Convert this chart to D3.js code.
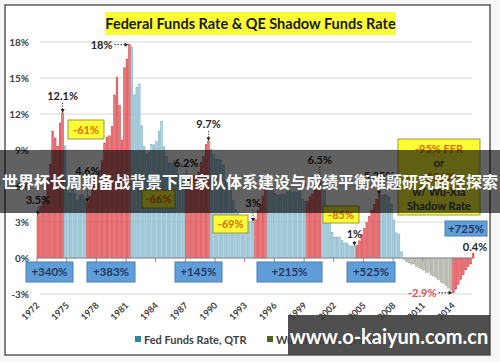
<!DOCTYPE html>
<html>
<head>
<meta charset="utf-8">
<script src="https://cdn.jsdelivr.net/npm/d3@7"></script>
<style>
  body { margin: 0; background: #fff; }
  svg { display: block; }
  text { font-family: Lato, "Open Sans", sans-serif; }
</style>
</head>
<body>
<script>
// effective fed funds rate, quarterly averages, one row per year 1972 - 2008
var fedFunds = [
  [3.55, 4.30, 4.74, 5.14],   // 1972
  [6.54, 7.82, 10.56, 10.00], // 1973
  [9.32, 11.25, 12.09, 9.35], // 1974
  [6.30, 5.42, 6.16, 5.41],   // 1975
  [4.83, 5.20, 5.28, 4.87],   // 1976
  [4.66, 5.16, 5.82, 6.51],   // 1977
  [6.76, 7.28, 8.10, 9.58],   // 1978
  [10.07, 10.18, 10.95, 13.58], // 1979
  [15.05, 12.69, 9.84, 15.85],  // 1980
  [16.57, 17.78, 17.58, 13.59], // 1981
  [14.23, 14.51, 11.01, 9.29],  // 1982
  [8.65, 8.80, 9.46, 9.43],   // 1983
  [9.69, 10.56, 11.39, 9.27], // 1984
  [8.48, 7.92, 7.90, 8.10],   // 1985
  [7.83, 6.92, 6.21, 6.27],   // 1986
  [6.22, 6.65, 6.84, 6.92],   // 1987
  [6.66, 7.16, 7.98, 8.47],   // 1988
  [9.44, 9.73, 9.08, 8.61],   // 1989
  [8.25, 8.24, 8.16, 7.74],   // 1990
  [6.43, 5.86, 5.64, 4.82],   // 1991
  [4.02, 3.77, 3.26, 3.04],   // 1992
  [3.04, 3.00, 3.06, 2.99],   // 1993
  [3.21, 3.94, 4.49, 5.17],   // 1994
  [5.81, 6.02, 5.80, 5.72],   // 1995
  [5.36, 5.24, 5.31, 5.28],   // 1996
  [5.28, 5.52, 5.53, 5.51],   // 1997
  [5.52, 5.50, 5.53, 4.86],   // 1998
  [4.73, 4.75, 5.09, 5.31],   // 1999
  [5.68, 6.27, 6.52, 6.47],   // 2000
  [5.59, 4.33, 3.50, 2.13],   // 2001
  [1.73, 1.75, 1.74, 1.44],   // 2002
  [1.25, 1.25, 1.02, 1.00],   // 2003
  [1.00, 1.03, 1.43, 1.95],   // 2004
  [2.47, 2.94, 3.46, 3.98],   // 2005
  [4.46, 4.91, 5.25, 5.25],   // 2006
  [5.26, 5.25, 5.07, 4.50],   // 2007
  [3.18, 2.09, 1.94, 0.51]    // 2008
]

// Wu-Xia shadow rate, quarterly, 2009Q1 - 2016Q1
var wuXia = [
  -0.1, -0.3, -0.4, -0.5,
  -0.5, -0.7, -0.8, -0.9,
  -1.0, -1.2, -1.2, -1.4,
  -1.5, -1.6, -1.8, -2.0,
  -2.1, -2.3, -2.5, -2.7,
  -2.9, -2.6, -2.2, -1.8,
  -1.4, -1.0, -0.7, -0.5,
  0.4
]

// tightening cycles (red bars), first and last quarter
var hikes = [
  ['1972Q1', '1974Q3'], ['1977Q1', '1981Q2'], ['1987Q1', '1989Q2'],
  ['1994Q1', '1995Q1'], ['1999Q2', '2000Q3'], ['2004Q2', '2006Q3'],
  ['2014Q1', '2016Q1']
]

var yTicks = [-3, 0, 3, 6, 9, 12, 15, 18]
var yearLabels = ['1972', '1975', '1978', '1981', '1984', '1987', '1990', '1993',
  '1996', '1999', '2002', '2005', '2008', '2011', '2014']

var seriesNames = ['Fed Funds Rate, QTR', 'Wu-Xia Rate, QTR']
var cutLabels = ['-61%', '-66%', '-69%', '-85%']
var gainLabels = ['+340%', '+383%', '+145%', '+215%', '+525%', '+725%']
var bigNote = ['-95% FFR', 'or', '-156%', 'w/ Wu-Xia', 'Shadow Rate']

var quarters = []
d3.range(1972, 2017).forEach(function (yr) {
  [1, 2, 3, 4].forEach(function (q) { quarters.push(yr + 'Q' + q) })
})
quarters = quarters.slice(0, 177) // through 2016Q1

var values = d3.merge(fedFunds).concat(wuXia)
var data = quarters.map(function (q, i) {
  var hike = hikes.some(function (h) { return q >= h[0] && q <= h[1] })
  return { q: q, v: values[i], kind: hike ? 'hike' : (i >= 148 ? 'shadow' : 'cut') }
})

var svg = d3.select('body').append('svg').attr('width', 500).attr('height', 362)

svg.append('rect').attr('width', 500).attr('height', 362).attr('fill', '#f6f6f6')
svg.append('rect')
  .attr('x', 5).attr('y', 5).attr('width', 485).attr('height', 350)
  .attr('fill', '#fff').attr('stroke', '#595959').attr('stroke-width', 1.5)

var x = d3.scaleBand().domain(quarters).range([37, 474]).paddingInner(0.3)
var y = d3.scaleLinear().domain([-3, 18]).range([294, 42])

// gridlines
svg.append('g').selectAll('line')
  .data(yTicks.filter(function (d) { return d !== 0 }))
  .join('line')
  .attr('x1', 40).attr('x2', 472)
  .attr('y1', d => y(d)).attr('y2', d => y(d))
  .attr('stroke', '#d9d9d9').attr('stroke-width', 1)

// y labels
svg.append('g').selectAll('text')
  .data(yTicks)
  .join('text')
  .attr('x', 29).attr('y', d => y(d) + 3.5)
  .attr('text-anchor', 'end')
  .attr('font-size', 10).attr('font-weight', 'bold').attr('fill', '#404040')
  .text(d => d + '%')

var colors = {
  hike: { fill: '#ec7a7c', stroke: '#d3353b' },
  cut: { fill: '#b3d7e6', stroke: '#74a8be' },
  shadow: { fill: '#cbcdc3', stroke: '#95988b' }
}

svg.append('g').selectAll('rect')
  .data(data)
  .join('rect')
  .attr('x', d => x(d.q))
  .attr('width', x.bandwidth())
  .attr('y', d => y(Math.max(d.v, 0)))
  .attr('height', d => Math.abs(y(d.v) - y(0)))
  .attr('fill', d => colors[d.kind].fill)
  .attr('stroke', d => colors[d.kind].stroke)
  .attr('stroke-width', 0.5)

// zero axis + ticks
svg.append('line').attr('x1', 37).attr('x2', 474).attr('y1', y(0)).attr('y2', y(0))
  .attr('stroke', '#8c8c8c').attr('stroke-width', 1)

var xt = svg.append('g')
xt.selectAll('line')
  .data(yearLabels)
  .join('line')
  .attr('x1', d => x(d + 'Q1')).attr('x2', d => x(d + 'Q1'))
  .attr('y1', y(0)).attr('y2', y(0) + 4)
  .attr('stroke', '#8c8c8c')
xt.selectAll('text')
  .data(yearLabels)
  .join('text')
  .attr('transform', d => 'translate(' + (x(d + 'Q1') + 3) + ',306) rotate(-45)')
  .attr('text-anchor', 'end')
  .attr('font-size', 9).attr('font-weight', 'bold').attr('fill', '#404040')
  .text(d => d)

// title
svg.append('rect').attr('x', 105).attr('y', 12).attr('width', 291).attr('height', 23).attr('fill', '#fcfc36')
svg.append('text').attr('x', 250.5).attr('y', 28.5).attr('text-anchor', 'middle')
  .attr('font-size', 14.5).attr('font-weight', 'bold').attr('fill', '#1a1a1a')
  .text('Federal Funds Rate & QE Shadow Funds Rate')

// value callouts with small arrows
function val(q) { return data[quarters.indexOf(q)].v }
function cx(q) { return x(q) + x.bandwidth() / 2 }

var callouts = [
  { q: '1972Q1', t: '3.5%', gap: 11 },
  { q: '1974Q3', t: '12.1%', gap: 13 },
  { q: '1977Q1', t: '4.6%', gap: 27 },
  { q: '1987Q1', t: '6.2%', gap: 16 },
  { q: '1989Q2', t: '9.7%', gap: 13 },
  { q: '1993Q4', t: '3%', gap: 15 },
  { q: '2000Q3', t: '6.5%', gap: 16 },
  { q: '2004Q1', t: '1%', gap: 8 },
  { q: '2006Q3', t: '5.25%', gap: 15 }
]
var ann = svg.append('g')
callouts.forEach(function (c) {
  var px = cx(c.q), top = y(val(c.q))
  ann.append('text').attr('x', px).attr('y', top - c.gap).attr('text-anchor', 'middle')
    .attr('font-size', 11).attr('font-weight', 'bold').attr('fill', '#262626').text(c.t)
  ann.append('line').attr('x1', px).attr('x2', px).attr('y1', top - c.gap + 3).attr('y2', top - 4)
    .attr('stroke', '#262626').attr('stroke-dasharray', '1,1.5')
  ann.append('path').attr('d', 'M' + (px - 2) + ',' + (top - 4) + 'L' + (px + 2) + ',' + (top - 4) + 'L' + px + ',' + top + 'Z')
    .attr('fill', '#262626')
})

// horizontal callouts
function sideNote(q, t, color, level) {
  var px = x(q), py = y(level)
  ann.append('text').attr('x', px - 16).attr('y', py + 4).attr('text-anchor', 'end')
    .attr('font-size', 11).attr('font-weight', 'bold').attr('fill', color).text(t)
  ann.append('line').attr('x1', px - 14).attr('x2', px - 4).attr('y1', py).attr('y2', py)
    .attr('stroke', '#262626').attr('stroke-dasharray', '1.5,1.5')
  ann.append('path').attr('d', 'M' + (px - 4) + ',' + (py - 2) + 'L' + (px - 4) + ',' + (py + 2) + 'L' + px + ',' + py + 'Z')
    .attr('fill', '#262626')
}
sideNote('1981Q2', '18%', '#262626', val('1981Q2'))
sideNote('2014Q1', '-2.9%', '#e0505a', val('2014Q1'))

ann.append('text').attr('x', 475).attr('y', y(0.4) - 2).attr('text-anchor', 'middle')
  .attr('font-size', 11).attr('font-weight', 'bold').attr('fill', '#262626').text('0.4%')

// yellow boxes (drawdowns)
var cutBoxes = [[68, 120, 36, 19], [142, 190, 33, 18], [213, 215, 35, 18], [323, 206, 36, 17]]
cutBoxes.forEach(function (b, i) {
  svg.append('rect').attr('x', b[0]).attr('y', b[1]).attr('width', b[2]).attr('height', b[3])
    .attr('fill', '#fcfc36').attr('stroke', '#9a9a3a').attr('stroke-width', 1)
  svg.append('text').attr('x', b[0] + b[2] / 2).attr('y', b[1] + b[3] / 2 + 4).attr('text-anchor', 'middle')
    .attr('font-size', 11).attr('font-weight', 'bold').attr('fill', '#e36c09').text(cutLabels[i])
})

svg.append('rect').attr('x', 398).attr('y', 139).attr('width', 82).attr('height', 76)
  .attr('fill', '#fcfc36').attr('stroke', '#9a9a3a').attr('stroke-width', 1)
bigNote.forEach(function (t, i) {
  svg.append('text').attr('x', 439).attr('y', 153 + i * 14.2).attr('text-anchor', 'middle')
    .attr('font-size', 11).attr('font-weight', 'bold')
    .attr('fill', (i === 0 || i === 2) ? '#e36c09' : '#404040').text(t)
})

// blue boxes (rises)
var gainBoxes = [[26, 262, 47, 20], [87, 262, 48, 20], [175, 262, 47, 20], [257, 262, 65, 20], [347, 262, 48, 20], [445, 221, 42, 15]]
gainBoxes.forEach(function (b, i) {
  svg.append('rect').attr('x', b[0]).attr('y', b[1]).attr('width', b[2]).attr('height', b[3])
    .attr('fill', '#5f9ed8').attr('stroke', '#4a7fb3').attr('stroke-width', 1)
  svg.append('text').attr('x', b[0] + b[2] / 2).attr('y', b[1] + b[3] / 2 + 4).attr('text-anchor', 'middle')
    .attr('font-size', 11.5).attr('font-weight', 'bold').attr('fill', '#1f3864').text(gainLabels[i])
})

// legend
var legendColors = ['#31859c', '#4f6228']
var legendX = [135, 267]
seriesNames.forEach(function (n, i) {
  svg.append('rect').attr('x', legendX[i]).attr('y', 336).attr('width', 6).attr('height', 6).attr('fill', legendColors[i])
  svg.append('text').attr('x', legendX[i] + 9).attr('y', 343.5)
    .attr('font-size', 11).attr('font-weight', 'bold').attr('fill', '#404040').text(n)
})

// overlay banner
svg.append('rect').attr('x', 0).attr('y', 150).attr('width', 500).attr('height', 63)
  .attr('fill', '#000').attr('opacity', 0.62)
svg.append('text').attr('x', 250).attr('y', 188).attr('text-anchor', 'middle')
  .style('font-family', '"Noto Sans CJK SC", sans-serif')
  .attr('font-size', 16).attr('font-weight', 'bold').attr('fill', '#fff')
  .text('世界杯长周期备战背景下国家队体系建设与成绩平衡难题研究路径探索')

// watermark
svg.append('rect').attr('x', 288).attr('y', 315).attr('width', 202).attr('height', 40)
  .attr('fill', '#3c3c3c').attr('opacity', 0.9)
svg.append('text').attr('x', 389).attr('y', 344).attr('text-anchor', 'middle')
  .attr('font-size', 20).attr('font-weight', 'bold').attr('fill', '#fff')
  .text('www.o-kaiyun.com.cn')
</script>
</body>
</html>
